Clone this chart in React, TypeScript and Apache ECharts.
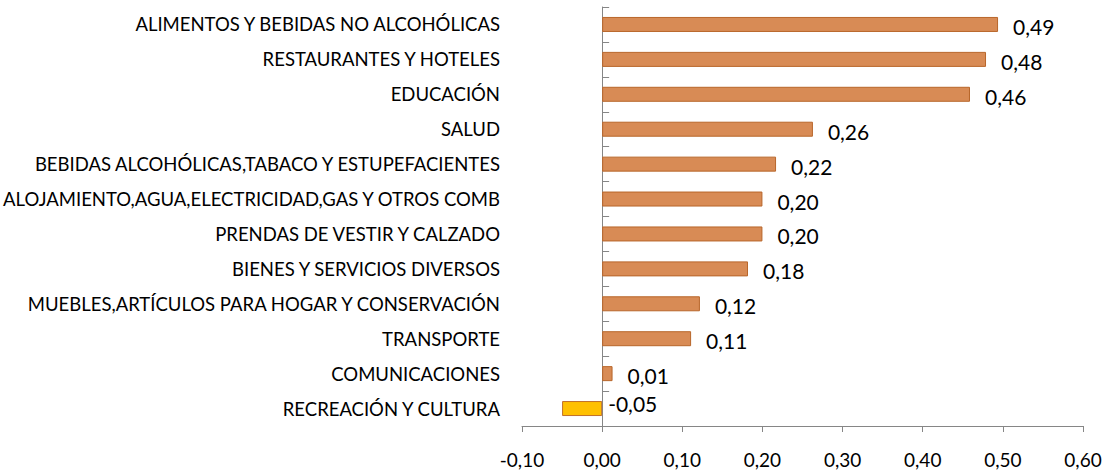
import React, { useEffect, useRef } from "react";
import * as echarts from "echarts";

const categories = [
  "ALIMENTOS Y BEBIDAS NO ALCOHÓLICAS",
  "RESTAURANTES Y HOTELES",
  "EDUCACIÓN",
  "SALUD",
  "BEBIDAS ALCOHÓLICAS,TABACO Y ESTUPEFACIENTES",
  "ALOJAMIENTO,AGUA,ELECTRICIDAD,GAS Y OTROS COMB",
  "PRENDAS DE VESTIR Y CALZADO",
  "BIENES Y SERVICIOS DIVERSOS",
  "MUEBLES,ARTÍCULOS PARA HOGAR Y CONSERVACIÓN",
  "TRANSPORTE",
  "COMUNICACIONES",
  "RECREACIÓN Y CULTURA",
];

const values = [0.494, 0.479, 0.459, 0.263, 0.217, 0.2, 0.2, 0.182, 0.122, 0.111, 0.013, -0.05];

const xMin = -0.1;
const xMax = 0.6;
const xInterval = 0.1;

const FONT = "Lato";

const fmt = (v: number) => v.toFixed(2).replace(".", ",");

export default function App() {
  const ref = useRef<HTMLDivElement>(null);
  useEffect(() => {
    if (!ref.current) return;
    const chart = echarts.init(ref.current, undefined, { renderer: "svg" });
    const data = values.map((v) => {
      const neg = v < 0;
      return {
        value: v,
        itemStyle: neg
          ? { color: "#FFC000", borderColor: "#C0702A", borderWidth: 1 }
          : { color: "#D88B55", borderColor: "#B8662A", borderWidth: 1 },
        label: neg ? { distance: 6, offset: [0, -5] } : { distance: 15, offset: [0, 2] },
      };
    });
    chart.setOption({
      animation: false,
      backgroundColor: "#ffffff",
      grid: {
        left: 522,
        right: 19,
        top: 7,
        bottom: 49,
        containLabel: false,
        outerBoundsMode: "none",
      },
      xAxis: {
        type: "value",
        min: xMin,
        max: xMax,
        interval: xInterval,
        splitLine: { show: false },
        axisLine: { show: true, lineStyle: { color: "#868686", width: 1 } },
        axisTick: { show: true, length: 6, lineStyle: { color: "#868686" } },
        axisLabel: {
          margin: 24,
          color: "#000",
          fontFamily: FONT,
          fontSize: 19,
          formatter: (v: number) => fmt(v),
        },
      },
      yAxis: [
        {
          type: "category",
          data: categories,
          inverse: true,
          position: "left",
          axisLine: { show: false, onZero: false },
          axisTick: { show: false },
          axisLabel: {
            margin: 22,
            color: "#000",
            fontFamily: FONT,
            fontSize: 18.5,
          },
        },
        {
          type: "category",
          data: categories,
          inverse: true,
          position: "right",
          axisLine: { show: true, onZero: true, lineStyle: { color: "#868686", width: 1 } },
          axisTick: { show: true, inside: false, length: 7, lineStyle: { color: "#868686" } },
          axisLabel: { show: false },
        },
      ],
      series: [
        {
          type: "bar",
          yAxisIndex: 0,
          data,
          barWidth: 15,
          label: {
            show: true,
            position: "right",
            color: "#000",
            fontFamily: FONT,
            fontSize: 21,
            formatter: (p: any) => fmt(p.value),
          },
        },
      ],
    });
    return () => chart.dispose();
  }, []);
  return (
    <div
      ref={ref}
      style={{ position: "fixed", left: 0, top: 0, width: 1102, height: 475, background: "#fff" }}
    />
  );
}
